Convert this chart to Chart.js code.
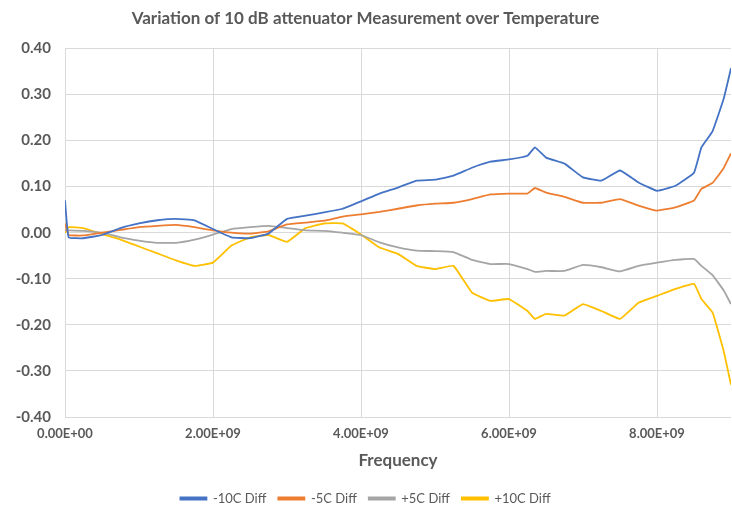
<!DOCTYPE html>
<html lang="en">
<head>
    <meta charset="UTF-8">
    <title>Variation of 10 dB attenuator Measurement over Temperature</title>
    <style>
        html, body { margin: 0; padding: 0; background: #fff; }
        .chart-box { position: relative; width: 732px; height: 506px; }
    </style>
    <script src="https://cdn.jsdelivr.net/npm/chart.js@4.4.0/dist/chart.umd.min.js"></script>
</head>
<body>
<div class="chart-box">
    <canvas id="tempChart"></canvas>
</div>

<script>
    // frequency in GHz (scaled to Hz below)
    const freqGHz = [0, 0.05, 0.25, 0.5, 0.75, 1.0, 1.25, 1.5, 1.75, 2.0, 2.25, 2.5, 2.75,
        3.0, 3.25, 3.5, 3.75, 4.0, 4.25, 4.5, 4.75, 5.0, 5.25, 5.5, 5.75, 6.0, 6.25, 6.35,
        6.5, 6.75, 7.0, 7.25, 7.5, 7.75, 8.0, 8.25, 8.5, 8.6, 8.75, 8.9, 9.0];

    const minus10 = [0.07, -0.01, -0.012, -0.005, 0.01, 0.02, 0.027, 0.03, 0.027, 0.008, -0.01, -0.012, -0.002,
        0.03, 0.037, 0.044, 0.052, 0.068, 0.085, 0.098, 0.113, 0.115, 0.124, 0.141, 0.154, 0.159, 0.167, 0.185,
        0.163, 0.15, 0.12, 0.113, 0.135, 0.109, 0.091, 0.102, 0.13, 0.185, 0.22, 0.29, 0.357];
    const minus5 = [0.02, -0.005, -0.006, 0.0, 0.006, 0.012, 0.015, 0.017, 0.012, 0.005, 0.0, -0.002, 0.003,
        0.018, 0.022, 0.026, 0.035, 0.04, 0.045, 0.052, 0.059, 0.063, 0.065, 0.073, 0.083, 0.085, 0.085, 0.097,
        0.087, 0.078, 0.065, 0.065, 0.073, 0.059, 0.048, 0.055, 0.07, 0.095, 0.108, 0.14, 0.172];
    const plus5 = [0.005, 0.005, 0.004, 0.0, -0.01, -0.017, -0.022, -0.022, -0.015, -0.004, 0.008, 0.012, 0.015,
        0.01, 0.005, 0.004, 0.0, -0.005, -0.021, -0.032, -0.039, -0.04, -0.042, -0.059, -0.068, -0.068, -0.079, -0.085,
        -0.083, -0.083, -0.07, -0.075, -0.084, -0.072, -0.065, -0.059, -0.057, -0.072, -0.092, -0.125, -0.155];
    const plus10 = [0.0, 0.012, 0.01, -0.003, -0.015, -0.03, -0.045, -0.06, -0.072, -0.065, -0.028, -0.01, -0.005,
        -0.02, 0.01, 0.02, 0.02, -0.004, -0.032, -0.046, -0.072, -0.079, -0.072, -0.13, -0.148, -0.144, -0.17, -0.187,
        -0.176, -0.18, -0.155, -0.17, -0.187, -0.152, -0.137, -0.122, -0.111, -0.144, -0.173, -0.256, -0.33];

    const seriesNames = ['-10C Diff', '-5C Diff', '+5C Diff', '+10C Diff'];
    const seriesColors = ['#4472C4', '#ED7D31', '#A5A5A5', '#FFC000'];
    const xTicks = [0, 2e9, 4e9, 6e9, 8e9];
    const yTicks = [-0.4, -0.3, -0.2, -0.1, 0, 0.1, 0.2, 0.3, 0.4];

    const textGray = '#595959';
    const fontName = 'Lato, "Open Sans", sans-serif';

    function toPoints(vals) {
        return vals.map((v, i) => ({ x: freqGHz[i] * 1e9, y: v }));
    }

    function sciLabel(v) {
        // Excel style 0.00E+00
        let s = Number(v).toExponential(2).toUpperCase();
        return s.replace(/E([+-])(\d)$/, 'E$10$2');
    }

    const allSeries = [minus10, minus5, plus5, plus10];

    new Chart(document.getElementById('tempChart'), {
        type: 'line',
        data: {
            datasets: allSeries.map((vals, i) => ({
                label: seriesNames[i],
                data: toPoints(vals),
                borderColor: seriesColors[i],
                backgroundColor: seriesColors[i],
                borderWidth: 1.8,
                pointRadius: 0,
                tension: 0.1,
                fill: false
            }))
        },
        options: {
            responsive: true,
            maintainAspectRatio: false,
            animation: false,
            layout: { padding: { left: 0, right: 1, top: 4, bottom: -9 } },
            scales: {
                x: {
                    type: 'linear',
                    min: 0,
                    max: 9e9,
                    afterBuildTicks: axis => { axis.ticks = xTicks.map(v => ({ value: v })); },
                    grid: { color: '#d9d9d9', drawTicks: false },
                    border: { display: false },
                    ticks: {
                        padding: 9,
                        maxRotation: 0,
                        color: textGray,
                        font: { family: fontName, size: 13, weight: 'bold' },
                        callback: v => sciLabel(v)
                    },
                    title: {
                        display: true,
                        text: 'Frequency',
                        color: textGray,
                        font: { family: fontName, size: 17, weight: 'bold' },
                        padding: { top: 0, bottom: 9 }
                    }
                },
                y: {
                    min: -0.4,
                    max: 0.4,
                    afterBuildTicks: axis => { axis.ticks = yTicks.map(v => ({ value: v })); },
                    afterFit: axis => { axis.width = 65; },
                    grid: { color: '#d9d9d9', drawTicks: false },
                    border: { display: false },
                    ticks: {
                        padding: 14,
                        color: textGray,
                        font: { family: fontName, size: 15, weight: 'bold' },
                        callback: v => v.toFixed(2)
                    }
                }
            },
            plugins: {
                title: {
                    display: true,
                    text: 'Variation of 10 dB attenuator Measurement over Temperature',
                    color: textGray,
                    font: { family: fontName, size: 17, weight: 'bold' },
                    padding: { top: 4, bottom: 20 }
                },
                legend: {
                    position: 'bottom',
                    labels: {
                        boxWidth: 26,
                        boxHeight: 2,
                        padding: 12,
                        color: textGray,
                        font: { family: fontName, size: 13 }
                    }
                },
                tooltip: { enabled: false }
            }
        }
    });
</script>
</body>
</html>
